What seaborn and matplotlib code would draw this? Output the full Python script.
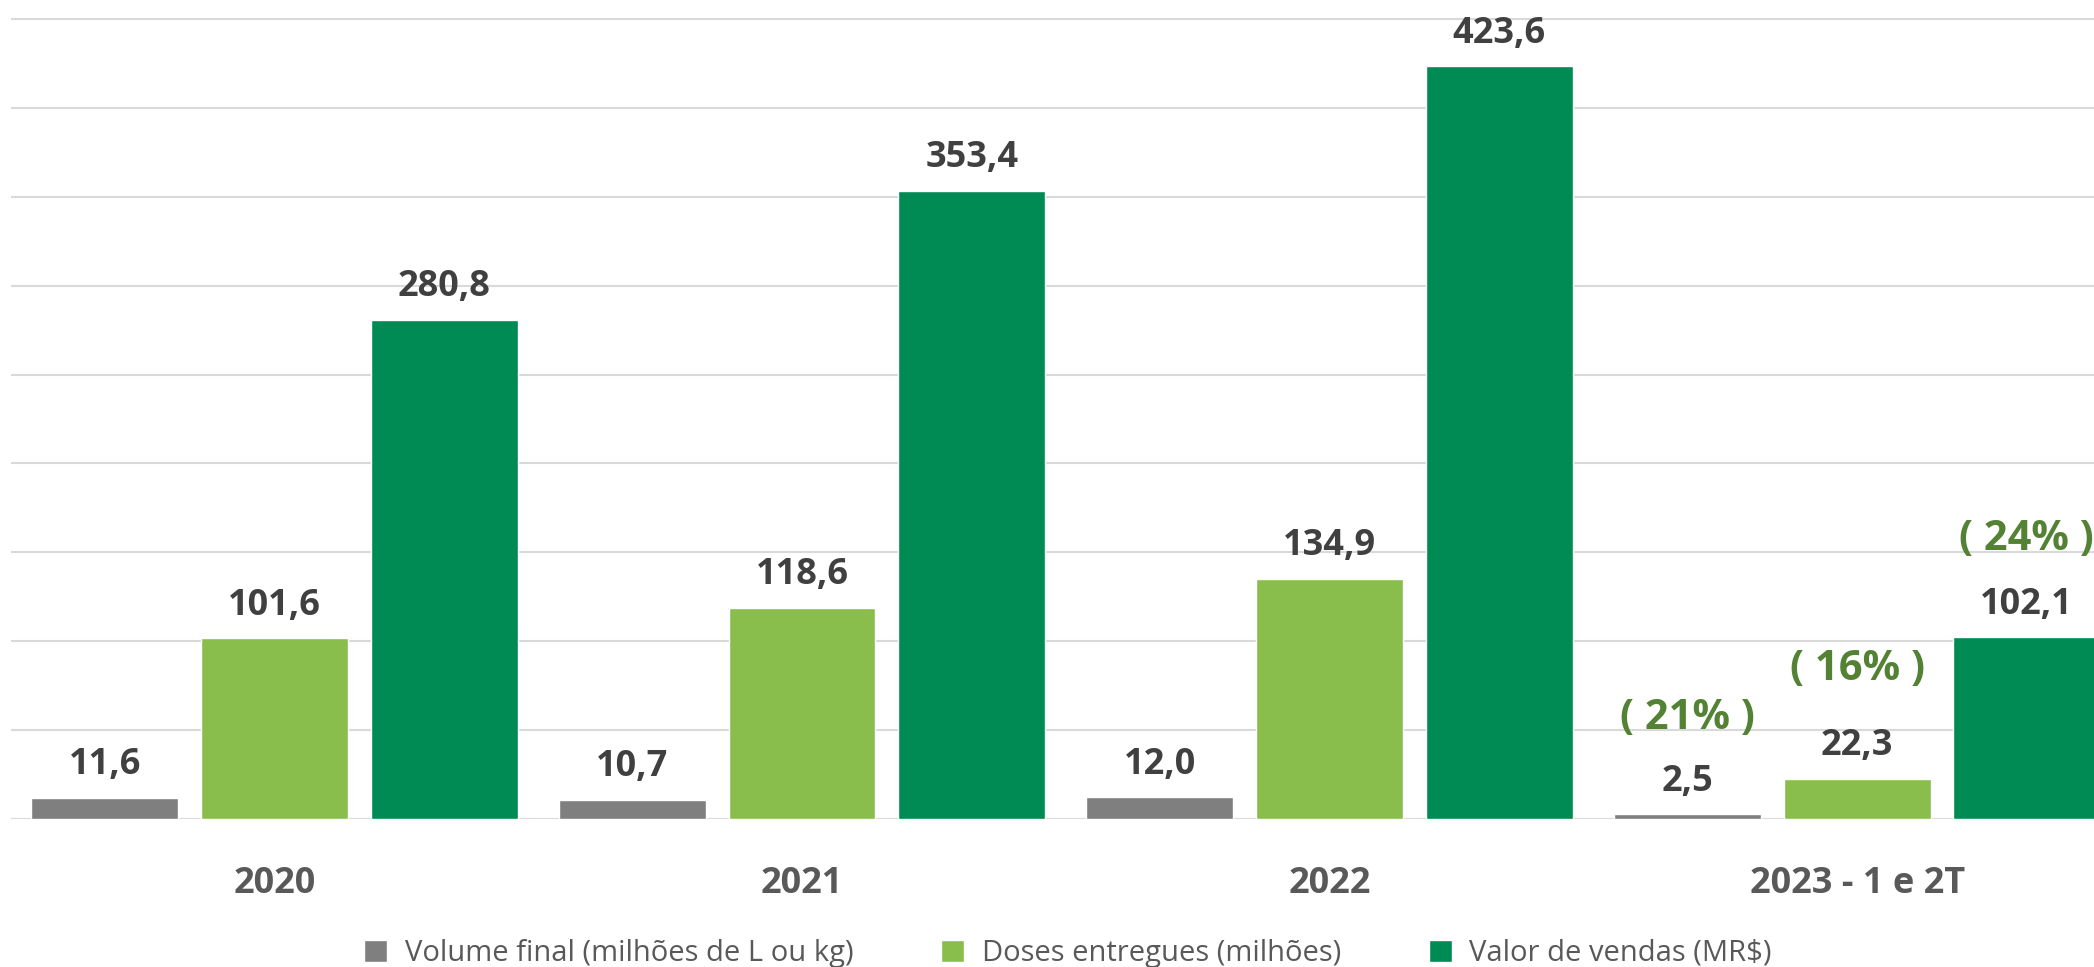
import numpy as np
import pandas as pd
import matplotlib
matplotlib.use("Agg")
import matplotlib.pyplot as plt
from matplotlib import font_manager
import seaborn as sns

# chart data
periodos = ["2020", "2021", "2022", "2023 - 1 e 2T"]
series = ["Volume final (milhões de L ou kg)", "Doses entregues (milhões)", "Valor de vendas (MR$)"]
volume_final = [11.6, 10.7, 12.0, 2.5]
doses_entregues = [101.6, 118.6, 134.9, 22.3]
valor_vendas = [280.8, 353.4, 423.6, 102.1]
variacao_2023 = ["( 21% )", "( 16% )", "( 24% )"]

cores = ["#7f7f7f", "#89be4d", "#008b54"]
# distance (points) of the % label above each 2023 bar
desloc_variacao = [61, 71, 63]

sns.set_theme(style="white")
nomes = {f.name for f in font_manager.fontManager.ttflist}
fonte = "Open Sans" if "Open Sans" in nomes else "DejaVu Sans"
fonte_legenda = "Liberation Sans Narrow" if "Liberation Sans Narrow" in nomes else fonte
plt.rcParams["font.family"] = [fonte, "DejaVu Sans"]

# long format table for seaborn
valores = [volume_final, doses_entregues, valor_vendas]
df = pd.DataFrame({
    "periodo": np.repeat([periodos], 3, axis=0).ravel(),
    "serie": np.repeat(series, len(periodos)),
    "valor": np.concatenate(valores),
})

fig = plt.figure(figsize=(20.94, 9.67), dpi=100)
ax = fig.add_axes([0.0051, 0.1534, 0.9949, 0.8357])

sns.barplot(data=df, x="periodo", y="valor", hue="serie", order=periodos, hue_order=series,
            palette=dict(zip(series, cores)), saturation=1, width=0.965, gap=0.135,
            errorbar=None, ax=ax)

handles, labels = ax.get_legend_handles_labels()
ax.get_legend().remove()

ax.set_xlim(-0.5, 3.449)
ax.set_ylim(0, 455)
ax.set_yticks(np.arange(0, 451, 50))
ax.set_yticklabels([])
ax.yaxis.grid(True, color="#d9d9d9", linewidth=1.5)
ax.set_axisbelow(True)
for s in ax.spines.values():
    s.set_visible(False)
ax.set_xlabel("")
ax.set_ylabel("")
ax.tick_params(axis="x", length=0, pad=34, labelsize=26, labelcolor="#595959")
ax.tick_params(axis="y", length=0)
for t in ax.get_xticklabels():
    t.set_fontweight("bold")

# value labels
for i, cont in enumerate(ax.containers):
    for j, bar in enumerate(cont):
        v = valores[i][j]
        xc = bar.get_x() + bar.get_width() / 2
        ax.annotate(f"{v:.1f}".replace(".", ","), (xc, bar.get_height()),
                    xytext=(0, 17), textcoords="offset points",
                    ha="center", va="baseline", fontsize=26, fontweight="bold",
                    color="#404040", annotation_clip=False)
    # variation for the last period
    bar = cont[len(periodos) - 1]
    xc = bar.get_x() + bar.get_width() / 2
    ax.annotate(variacao_2023[i], (xc, bar.get_height()),
                xytext=(0, desloc_variacao[i]), textcoords="offset points",
                ha="center", va="baseline", fontsize=30, fontweight="bold",
                color="#548235", annotation_clip=False)

fig.legend(handles, labels, loc="center", bbox_to_anchor=(0.51, 0.014), ncol=3,
           frameon=False, handlelength=0.8, handleheight=0.8, handletextpad=0.6,
           columnspacing=3.0, prop={"family": fonte_legenda, "size": 21},
           labelcolor="#595959")

fig.savefig("out.png", dpi=100)
